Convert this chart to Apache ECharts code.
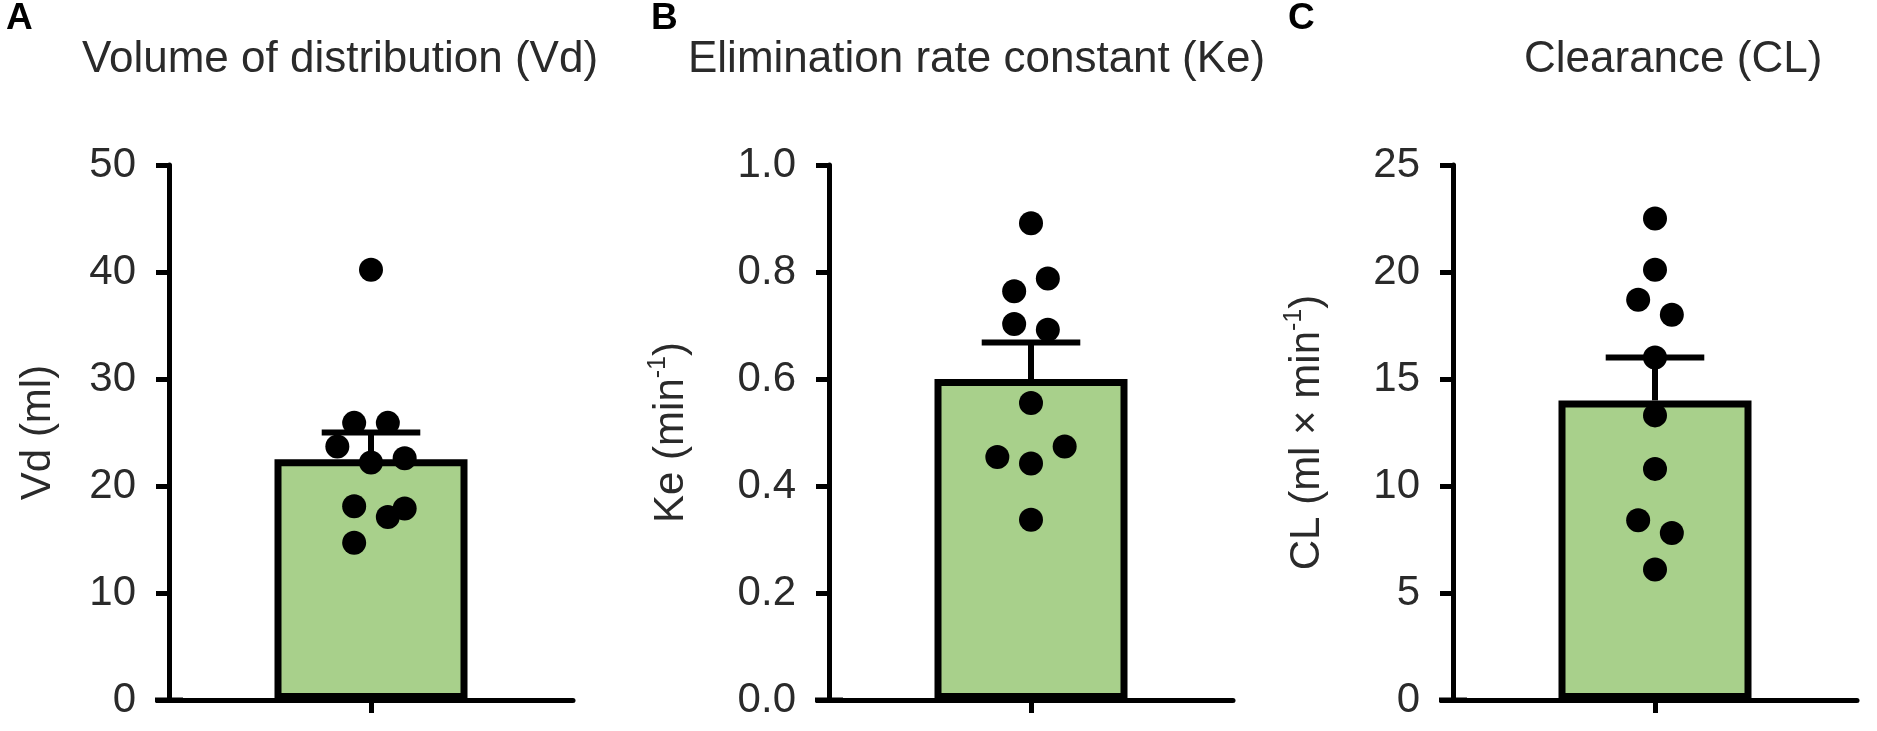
<!DOCTYPE html>
<html>
<head>
<meta charset="utf-8">
<script src="https://cdn.jsdelivr.net/npm/echarts@6/dist/echarts.min.js"></script>
<style>
  html, body { margin: 0; padding: 0; background: #fff; }
  #chart { width: 1877px; height: 731px; }
</style>
</head>
<body>
<div id="chart"></div>
<script>
// values
const panelLetters = ['A', 'B', 'C'];
const panelTitles = ['Volume of distribution (Vd)', 'Elimination rate constant (Ke)', 'Clearance (CL)'];
const axisNames = ['Vd (ml)', 'Ke (min{sup|-1})', 'CL (ml × min{sup|-1})'];
const yMax = [50, 1.0, 25];
const yStep = [10, 0.2, 5];
const yDecimals = [0, 1, 0];

const means = [22.5, 0.60, 14.0];
const sems = [2.5, 0.068, 2.0];

const vdPoints = [40.2, 25.9, 25.9, 23.7, 22.2, 22.6, 18.1, 17.9, 17.1, 14.7];
const vdJitter = [0, -1, 1, -2, 0, 2, -1, 2, 1, -1];
const kePoints = [0.891, 0.788, 0.764, 0.703, 0.692, 0.555, 0.474, 0.454, 0.442, 0.337];
const keJitter = [0, 1, -1, -1, 1, 0, 2, -2, 0, 0];
const clPoints = [22.5, 20.1, 18.7, 18.0, 16.0, 13.3, 10.8, 8.4, 7.8, 6.1];
const clJitter = [0, 0, -1, 1, 0, 0, 0, -1, 1, 0];

const points = [vdPoints, kePoints, clPoints];
const jitter = [vdJitter, keJitter, clJitter];

// layout
const gridLeft = [169, 829, 1453];
const gridWidth = 404;
const titleLeft = [82, 688, 1524];
const letterLeft = [6, 651, 1288];
const nameGaps = [106, 133, 121];
const font = 'Liberation Sans, Arial, sans-serif';
const ink = '#2a2a2a';

const grids = [], xAxes = [], yAxes = [], series = [], titles = [];

panelLetters.forEach(function (letter, i) {
    titles.push({
        text: letter, left: letterLeft[i], top: 0, padding: 0,
        textStyle: { fontFamily: font, fontSize: 37, fontWeight: 'bold', color: '#000' }
    });
    titles.push({
        text: panelTitles[i], left: titleLeft[i], top: 38, padding: 0,
        textStyle: { fontFamily: font, fontSize: 44, fontWeight: 'normal', color: ink }
    });

    grids.push({ left: gridLeft[i], width: gridWidth, top: 165, bottom: 31, containLabel: false });

    // visible category axis carrying the bar
    xAxes.push({
        type: 'category', gridIndex: i, data: [panelTitles[i]],
        axisLine: {
            onZero: false, lineStyle: { color: '#000', width: 5 },
            symbol: ['rect', 'none'], symbolSize: [5, 28]
        },
        axisTick: { show: true, interval: 0, alignWithLabel: true, length: 13, lineStyle: { color: '#000', width: 5 } },
        axisLabel: { show: true, interval: 0, color: 'rgba(0,0,0,0)', formatter: function () { return ' '; } },
        splitLine: { show: false }
    });
    // hidden value axis used to spread the dots sideways
    xAxes.push({
        type: 'value', gridIndex: i, min: -12, max: 12, show: false,
        axisLine: { onZero: false }
    });

    yAxes.push({
        type: 'value', gridIndex: i, min: 0, max: yMax[i], interval: yStep[i],
        name: axisNames[i], nameLocation: 'middle', nameGap: nameGaps[i], nameRotate: 90,
        nameTextStyle: {
            fontFamily: font, fontSize: 42, color: ink, lineHeight: 50,
            rich: { sup: { fontFamily: font, fontSize: 25, color: ink, lineHeight: 25, verticalAlign: 'top' } }
        },
        axisLine: { show: true, onZero: false, lineStyle: { color: '#000', width: 5 } },
        axisTick: { show: true, length: 13, lineStyle: { color: '#000', width: 5 } },
        axisLabel: {
            margin: 33, fontFamily: font, fontSize: 42, color: ink,
            formatter: function (v) { return v.toFixed(yDecimals[i]); }
        },
        splitLine: { show: false }
    });

    series.push({
        type: 'bar', xAxisIndex: 2 * i, yAxisIndex: i,
        data: [means[i]], barWidth: 193,
        itemStyle: { color: '#a8d08b', borderColor: '#000', borderWidth: 7 },
        silent: true, z: 2
    });
    series.push({
        type: 'custom', xAxisIndex: 2 * i, yAxisIndex: i,
        data: [[0, means[i], means[i] + sems[i]]],
        renderItem: function (params, api) {
            const base = api.coord([api.value(0), api.value(1)]);
            const top = api.coord([api.value(0), api.value(2)]);
            const half = api.size([1, 0])[0] * 0.122;
            const st = { stroke: '#000', lineWidth: 6 };
            return {
                type: 'group',
                children: [
                    { type: 'line', shape: { x1: base[0], y1: base[1], x2: top[0], y2: top[1] }, style: st },
                    { type: 'line', shape: { x1: top[0] - half, y1: top[1], x2: top[0] + half, y2: top[1] }, style: st }
                ]
            };
        },
        silent: true, z: 3
    });
    series.push({
        type: 'scatter', xAxisIndex: 2 * i + 1, yAxisIndex: i,
        data: points[i].map(function (v, k) { return [jitter[i][k], v]; }),
        symbol: 'circle', symbolSize: 24,
        itemStyle: { color: '#000', opacity: 1 },
        silent: true, z: 4
    });
});

const chart = echarts.init(document.getElementById('chart'));
chart.setOption({
    animation: false,
    backgroundColor: '#fff',
    title: titles,
    grid: grids,
    xAxis: xAxes,
    yAxis: yAxes,
    series: series
});
</script>
</body>
</html>
